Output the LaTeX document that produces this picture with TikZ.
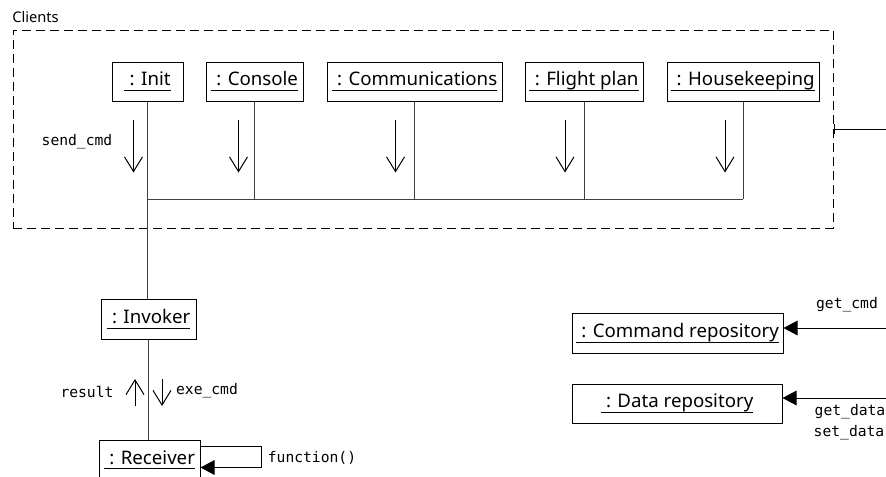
\documentclass[tikz,border=0pt]{standalone}
\usepackage{fontspec}
\setmainfont{Noto Sans}
\setmonofont{DejaVu Sans Mono}
\usetikzlibrary{arrows.meta}
\newcommand{\objname}[1]{\underline{\raisebox{0pt}[\height][2pt]{\hspace{4pt}: #1}}}
\tikzset{
  obj/.style={draw, rectangle, line width=0.75pt, minimum height=29.25pt, inner sep=0pt, font=\fontsize{14}{16}\selectfont},
  lifeline/.style={line width=0.7pt, black!75},
  msg/.style={-{Straight Barb[length=11pt,width=13.5pt]}, line width=0.75pt},
  call/.style={-{Triangle[length=10.5pt,width=11pt]}, line width=0.75pt},
  lbl/.style={font=\fontsize{11}{13}\selectfont\ttfamily, inner sep=0pt},
  group/.style={draw, dash pattern=on 6.75pt off 3.75pt, line width=0.75pt, inner sep=0pt}
}
\begin{document}
\begin{tikzpicture}[x=0.75pt, y=-0.75pt]
\clip (0,0) rectangle (886,476);
\node[group, minimum width=615pt, minimum height=148.5pt] (clients) at (423,129) {};
\node[anchor=west, inner sep=0pt, font=\fontsize{11}{13}\selectfont] (clientslbl) at (12,17) {Clients};
\node[obj, minimum width=53.25pt] (init) at (147.5,81.5) {\objname{Init}};
\node[obj, minimum width=72.75pt] (console) at (254.5,81.5) {\objname{Console}};
\node[obj, minimum width=131.25pt] (comm) at (414.5,81.5) {\objname{Communications}};
\node[obj, minimum width=88.5pt] (flight) at (584,81.5) {\objname{Flight plan}};
\node[obj, minimum width=114pt] (house) at (743,81.5) {\objname{Housekeeping}};
\node[obj, minimum width=71.25pt, minimum height=30pt] (invoker) at (148.5,319) {\objname{Invoker}};
\node[obj, minimum width=75.75pt, minimum height=30pt] (receiver) at (149.5,460) {\objname{Receiver}};
\node[obj, minimum width=158.25pt, minimum height=30pt] (cmdrepo) at (677.5,333) {\objname{Command repository}};
\node[obj, minimum width=157.5pt] (datarepo) at (677,403.5) {\objname{Data repository}};
\coordinate (bus) at (0,199);
\coordinate (clientsout) at (890,129);
\coordinate (cmdsrc) at (890,328);
\coordinate (datasrc) at (890,398);
\draw[lifeline] (init.south) -- (init.south |- invoker.north);
\foreach \n in {console,comm,flight,house}
  \draw[lifeline] (\n.south) -- (\n.south |- bus);
\draw[lifeline] (init.south |- bus) -- (house.south |- bus);
\foreach \n/\dx in {init/-14,console/-16,comm/-19,flight/-19,house/-18}
  \draw[msg] ([shift={(\dx,18)}]\n.south) -- ++(0,53);
\node[lbl] (sendcmd) at (77,142) {send\_cmd};
\draw[{Bar[width=7.5pt]}-, line width=0.75pt] (clients.east) -- (clientsout);
\draw[lifeline] (invoker.south) -- (invoker.south |- receiver.north);
\draw[msg] (135,406) -- (135,379);
\draw[msg] (162,379) -- (162,406);
\node[lbl] (result) at (87,392) {result};
\node[lbl] (execmd) at (207,391) {exe\_cmd};
\draw[call] ([yshift=-5.25pt]receiver.north east) -- ++(61,0) -- ++(0,21) -- ([yshift=-21pt]receiver.north east);
\node[lbl] (func) at (312,458) {function()};
\draw[call] (cmdsrc) -- (cmdsrc -| cmdrepo.east);
\node[lbl] (getcmd) at (847,305) {get\_cmd};
\draw[call] (datasrc) -- (datasrc -| datarepo.east);
\node[lbl] (getdata) at (850,412) {get\_data};
\node[lbl] (setdata) at (849,433) {set\_data};
\end{tikzpicture}
\end{document}
